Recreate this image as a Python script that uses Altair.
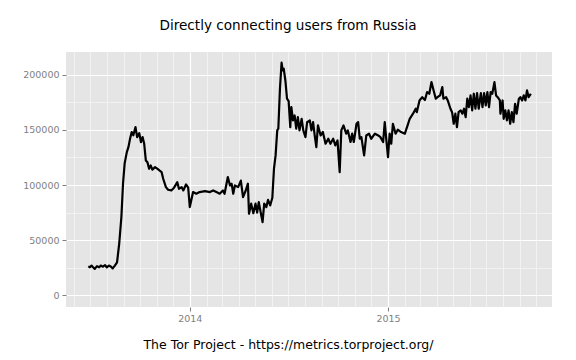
import altair as alt
import pandas as pd

dates = [
    "2013-06-28", "2013-07-01", "2013-07-04", "2013-07-06", "2013-07-10", "2013-07-14",
    "2013-07-18", "2013-07-21", "2013-07-25", "2013-07-29", "2013-08-01", "2013-08-05",
    "2013-08-09", "2013-08-12", "2013-08-16", "2013-08-20", "2013-08-24", "2013-08-28",
    "2013-08-31", "2013-09-03", "2013-09-07", "2013-09-10", "2013-09-13", "2013-09-16",
    "2013-09-19", "2013-09-23", "2013-09-26", "2013-09-30", "2013-10-03", "2013-10-06",
    "2013-10-09", "2013-10-12", "2013-10-15", "2013-10-18", "2013-10-21", "2013-10-24",
    "2013-10-29", "2013-11-02", "2013-11-06", "2013-11-10", "2013-11-13", "2013-11-18",
    "2013-11-22", "2013-11-28", "2013-12-03", "2013-12-09", "2013-12-12", "2013-12-17",
    "2013-12-20", "2013-12-25", "2013-12-29",
    "2014-01-01", "2014-01-07", "2014-01-13", "2014-01-19", "2014-01-29", "2014-02-07",
    "2014-02-13", "2014-02-19", "2014-02-25", "2014-03-03", "2014-03-06", "2014-03-12",
    "2014-03-16", "2014-03-19", "2014-03-22", "2014-03-25", "2014-03-31", "2014-04-05",
    "2014-04-09", "2014-04-14", "2014-04-18", "2014-04-20", "2014-04-24", "2014-04-28",
    "2014-05-02", "2014-05-05", "2014-05-08", "2014-05-12", "2014-05-15", "2014-05-18",
    "2014-05-22", "2014-05-25", "2014-05-29", "2014-06-02", "2014-06-05", "2014-06-08",
    "2014-06-11", "2014-06-13", "2014-06-16", "2014-06-19", "2014-06-21", "2014-06-23",
    "2014-06-26", "2014-06-29", "2014-07-02", "2014-07-05", "2014-07-07", "2014-07-10",
    "2014-07-13", "2014-07-16", "2014-07-19", "2014-07-22", "2014-07-26", "2014-07-29",
    "2014-08-02", "2014-08-05", "2014-08-10", "2014-08-13", "2014-08-16", "2014-08-19",
    "2014-08-22", "2014-08-25", "2014-08-30", "2014-09-03", "2014-09-08", "2014-09-13",
    "2014-09-17", "2014-09-22", "2014-09-26", "2014-09-30", "2014-10-04", "2014-10-07",
    "2014-10-11", "2014-10-16", "2014-10-19", "2014-10-24", "2014-10-27", "2014-10-30",
    "2014-11-04", "2014-11-07", "2014-11-10", "2014-11-13", "2014-11-18", "2014-11-22",
    "2014-11-27", "2014-12-01", "2014-12-08", "2014-12-14", "2014-12-18", "2014-12-23",
    "2014-12-26", "2014-12-29",
    "2015-01-01", "2015-01-04", "2015-01-07", "2015-01-10", "2015-01-15", "2015-01-19",
    "2015-01-25", "2015-02-01", "2015-02-05", "2015-02-10", "2015-02-16", "2015-02-21",
    "2015-02-23", "2015-02-28", "2015-03-05", "2015-03-10", "2015-03-14", "2015-03-18",
    "2015-03-22", "2015-03-26", "2015-03-30", "2015-04-03", "2015-04-07", "2015-04-11",
    "2015-04-13", "2015-04-18", "2015-04-21", "2015-04-26", "2015-04-29", "2015-05-02",
    "2015-05-05", "2015-05-08", "2015-05-11", "2015-05-15", "2015-05-18", "2015-05-21",
    "2015-05-24", "2015-05-27", "2015-05-30", "2015-06-02", "2015-06-05", "2015-06-08",
    "2015-06-11", "2015-06-14", "2015-06-17", "2015-06-21", "2015-06-24", "2015-06-27",
    "2015-06-30", "2015-07-03", "2015-07-06", "2015-07-09", "2015-07-12", "2015-07-16",
    "2015-07-19", "2015-07-22", "2015-07-26", "2015-07-27", "2015-07-31", "2015-08-02",
    "2015-08-05", "2015-08-08", "2015-08-11", "2015-08-14", "2015-08-17", "2015-08-20",
    "2015-08-23", "2015-08-26", "2015-08-30", "2015-09-02", "2015-09-05", "2015-09-08",
    "2015-09-11", "2015-09-14", "2015-09-17", "2015-09-21",
]

users = [
    26300, 25500, 27000, 26000, 24000, 26500,
    25500, 27000, 26000, 27500, 25500, 27000,
    26000, 24500, 27000, 30000, 47000, 71000,
    101000, 119600, 129800, 134300, 142000, 148000,
    145000, 152500, 143400, 147000, 138900, 143400,
    137400, 122300, 120700, 114800, 117800, 113900,
    116200, 114800, 113200, 111700, 105700, 98100,
    95700, 95100, 97600, 102600, 96600, 98100,
    95100, 100500, 97600,
    80000, 93600, 92100, 93600, 94500, 93600,
    95100, 93600, 92100, 95100, 92100, 107200,
    99600, 101200, 92100, 99600, 98100, 104000,
    89000, 95000, 101200, 74000, 83100, 74500,
    83100, 75000, 84500, 74000, 66400, 83100,
    80000, 86500, 81500, 88500, 114800, 126800,
    149500, 151000, 187200, 210800, 203800, 205300,
    194700, 178200, 176000, 152400, 170600, 158500,
    163000, 151000, 161500, 149500, 160000, 149500,
    143400, 157000, 158500, 149500, 157000, 144900,
    134300, 154000, 144900, 148000, 137400, 141900,
    137400, 141900, 135900, 140400, 111700, 149500,
    154000, 146500, 149500, 139000, 146500, 139000,
    155500, 157000, 141900, 143400, 126800, 144900,
    146500, 141900, 146500, 144900, 143400, 138900,
    157000, 140400,
    125300, 146500, 137400, 155500, 146500, 150100,
    148000, 146500, 152400, 160000, 164600, 169100,
    166000, 176600, 179600, 177000, 184200, 182700,
    193200, 185700, 178200, 180000, 181200, 188700,
    178200, 179600, 176600, 169100, 166000, 155500,
    164600, 152400, 166000, 167600, 164600, 169100,
    161500, 178200, 170600, 181200, 167600, 182700,
    169100, 183300, 169100, 183300, 170600, 183300,
    172100, 184200, 170600, 184200, 182700, 193200,
    181200, 179600, 176600, 164600, 176600, 160000,
    167600, 158500, 167600, 155500, 166000, 157000,
    173600, 164600, 178200, 179600, 176600, 181200,
    176600, 185700, 179600, 182700,
]

title_text = "Directly connecting users from Russia"
x_title = "The Tor Project - https://metrics.torproject.org/"
y_major = [0, 50000, 100000, 150000, 200000]
y_minor = [25000, 75000, 125000, 175000]

df = pd.DataFrame({"date": dates, "users": users})

FONT = "DejaVu Sans"
GREY = "#7F7F7F"

x_scale = alt.Scale(
    type="utc",
    domain=[alt.DateTime(year=2013, month=5, date=18, utc=True),
            alt.DateTime(year=2015, month=10, date=30, utc=True)],
    nice=False,
)
y_scale = alt.Scale(domain=[-10500, 220500], nice=False, zero=False)

month_ticks = []
for yr in (2013, 2014, 2015):
    for mo in range(1, 13):
        if (yr, mo) < (2013, 6) or (yr, mo) > (2015, 10):
            continue
        month_ticks.append(alt.DateTime(year=yr, month=mo, date=1, utc=True))
year_ticks = [alt.DateTime(year=2014, month=1, date=1, utc=True),
              alt.DateTime(year=2015, month=1, date=1, utc=True)]

minor = alt.Chart(df).mark_line(strokeOpacity=0).encode(
    x=alt.X("date:T", scale=x_scale,
            axis=alt.Axis(values=month_ticks, grid=True, gridColor="#F2F2F2", gridWidth=1,
                          labels=False, ticks=False, domain=False, title=None, orient="bottom")),
    y=alt.Y("users:Q", scale=y_scale,
            axis=alt.Axis(values=y_minor, grid=True, gridColor="#F2F2F2", gridWidth=1,
                          labels=False, ticks=False, domain=False, title=None, orient="left")),
)

main = alt.Chart(df).mark_line(color="black", strokeWidth=2.2, strokeJoin="round").encode(
    x=alt.X("date:T", scale=x_scale,
            axis=alt.Axis(values=year_ticks, format="%Y", grid=True, gridColor="white",
                          gridWidth=1.2, domain=False, ticks=True, tickSize=4,
                          tickColor=GREY, labelColor=GREY, labelFont=FONT, labelFontSize=9.5,
                          labelPadding=2, orient="bottom",
                          title=x_title, titleFont=FONT, titleFontSize=12.5,
                          titleFontWeight="normal", titleColor="black",
                          titleX=222, titleY=41, titleBaseline="alphabetic")),
    y=alt.Y("users:Q", scale=y_scale,
            axis=alt.Axis(values=y_major, format="d", grid=True, gridColor="white",
                          gridWidth=1.2, domain=False, ticks=True, tickSize=4,
                          tickColor=GREY, labelColor=GREY, labelFont=FONT, labelFontSize=9.5,
                          labelPadding=3, orient="left", title=None)),
)

chart = alt.layer(minor, main).resolve_axis(x="independent", y="independent").properties(
    width=486,
    height=255,
    autosize=alt.AutoSizeParams(type="none"),
    padding={"left": 58, "top": 44, "right": 16, "bottom": 50},
    title=alt.TitleParams(title_text, anchor="middle", font=FONT, fontSize=13.6,
                          fontWeight="normal", color="black", dx=-21, offset=8,
                          baseline="alphabetic"),
).configure_view(fill="#E5E5E5", strokeWidth=0)

chart.save("out.html", embed_options={"renderer": "svg", "actions": False})
